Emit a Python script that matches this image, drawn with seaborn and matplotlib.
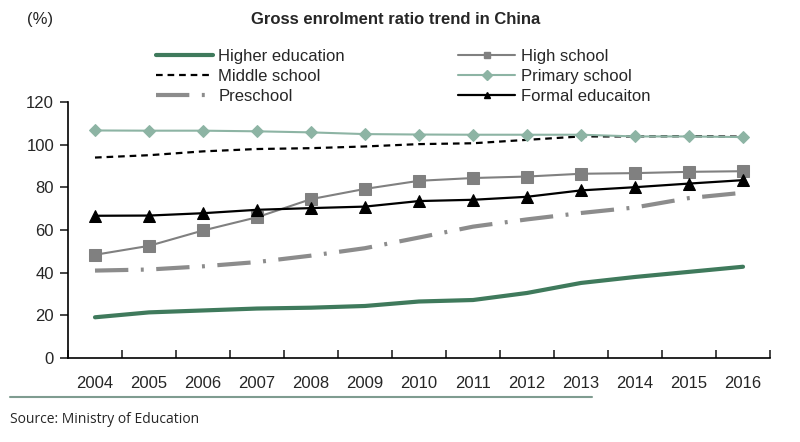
import pandas as pd
import seaborn as sns
import matplotlib.pyplot as plt
from matplotlib.lines import Line2D

# Datos
years = [2004, 2005, 2006, 2007, 2008, 2009, 2010, 2011, 2012, 2013, 2014, 2015, 2016]
higher_education = [19.1, 21.4, 22.3, 23.2, 23.6, 24.4, 26.5, 27.2, 30.5, 35.2, 38.0, 40.4, 42.8]
middle_school = [94.0, 95.1, 96.9, 98.0, 98.4, 99.2, 100.3, 100.7, 102.3, 103.9, 103.9, 104.0, 103.8]
preschool = [41.0, 41.5, 43.0, 45.0, 48.0, 51.5, 56.5, 61.6, 65.0, 68.0, 70.6, 75.0, 77.5]
high_school = [48.4, 52.6, 59.8, 66.0, 74.5, 79.3, 83.1, 84.4, 85.1, 86.4, 86.7, 87.3, 87.6]
primary_school = [106.7, 106.6, 106.6, 106.3, 105.8, 105.0, 104.8, 104.7, 104.7, 104.7, 103.9, 103.9, 103.6]
formal_education = [66.7, 66.8, 67.9, 69.5, 70.3, 71.0, 73.6, 74.2, 75.6, 78.6, 80.1, 81.8, 83.4]

df = pd.DataFrame({
    'Year': years,
    'Higher education': higher_education,
    'Middle school': middle_school,
    'Preschool': preschool,
    'High school': high_school,
    'Primary school': primary_school,
    'Formal educaiton': formal_education,
})

sns.set_theme(style="white")
plt.rcParams['font.family'] = ['Liberation Sans', 'DejaVu Sans']

fig = plt.figure(figsize=(8, 4.42), dpi=100)
ax = fig.add_axes([0.085, 0.19, 0.8775, 0.579])

green = '#3f7a5c'
sage = '#8db4a4'
grey = '#808080'

styles = {
    'Higher education': dict(color=green, linewidth=3.0),
    'Middle school': dict(color='black', linewidth=1.6, linestyle=(0, (3, 2.2))),
    'Preschool': dict(color='#8c8c8c', linewidth=3.0, linestyle=(0, (8, 3, 0.7, 3))),
    'High school': dict(color=grey, linewidth=1.5, marker='s', markersize=9,
                        markeredgecolor=grey, markerfacecolor=grey),
    'Primary school': dict(color=sage, linewidth=1.5, marker='D', markersize=6.5,
                           markeredgecolor=sage, markerfacecolor=sage),
    'Formal educaiton': dict(color='black', linewidth=1.6, marker='^', markersize=8.5,
                             markeredgecolor='black', markerfacecolor='black'),
}

handles = []
for name, st in styles.items():
    sns.lineplot(data=df, x='Year', y=name, ax=ax, legend=False, **st)
    # en la leyenda los marcadores son más pequeños
    hst = dict(st)
    if 'marker' in hst:
        hst['markersize'] = 5
    handles.append(Line2D([], [], label=name, **hst))

ax.set_xlim(2003.5, 2016.5)
ax.set_ylim(0, 120)
ax.set_yticks(range(0, 121, 20))
ax.set_xticks(years)
ax.set_xticklabels([str(y) for y in years])
ax.set_xticks([y + 0.5 for y in [2003] + years], minor=True)
ax.set_xlabel('')
ax.set_ylabel('')

for s in ['top', 'right']:
    ax.spines[s].set_visible(False)
for s in ['left', 'bottom']:
    ax.spines[s].set_color('black')
    ax.spines[s].set_linewidth(1.2)

ax.tick_params(axis='y', which='major', left=True, direction='out', length=6,
               width=1.2, labelsize=12, pad=4)
ax.tick_params(axis='x', which='major', bottom=False, labelsize=12, pad=7)
ax.tick_params(axis='x', which='minor', bottom=True, direction='in', length=6, width=1.2)
ax.grid(False)

# Títulos y textos
fig.text(0.494, 0.955, 'Gross enrolment ratio trend in China', ha='center', va='center',
         fontsize=12, fontweight='bold')
fig.text(0.05, 0.955, '(%)', ha='center', va='center', fontsize=12)

fig.legend(handles=handles, ncol=2, loc='upper left', bbox_to_anchor=(0.195, 0.89),
           frameon=False, fontsize=12, handlelength=3.4, handletextpad=0.35,
           columnspacing=6.8, labelspacing=0.3, borderpad=0, borderaxespad=0)

# Línea y fuente
fig.add_artist(Line2D([0.0125, 0.74], [0.102, 0.102], color='#7f9c90', linewidth=1.5))
fig.text(0.0125, 0.052, 'Source: Ministry of Education', ha='left', va='center',
         fontsize=10, family=['Open Sans', 'DejaVu Sans'])

plt.savefig('out.png', dpi=100)
